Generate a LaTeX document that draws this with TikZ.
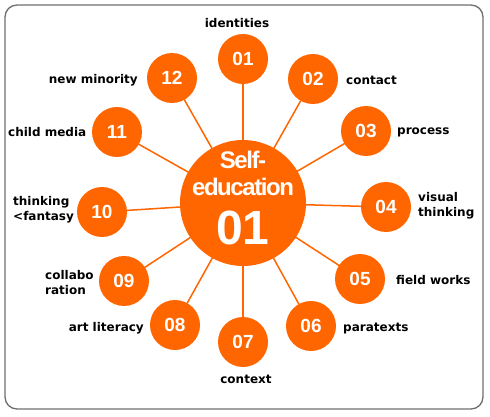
\documentclass[tikz,border=0pt]{standalone}
\usepackage{fontspec}
\usetikzlibrary{backgrounds}
\setmainfont{DejaVu Sans}
\newfontfamily\labfont{DejaVu Sans Bold}
\newfontfamily\numfont{Liberation Sans Bold}
\newfontfamily\ctrfont[LetterSpace=-6]{Liberation Sans Bold}
\definecolor{orng}{HTML}{FF6600}
\definecolor{frame}{HTML}{6E6E6E}
\tikzset{
  sat/.style={circle, fill=orng, minimum size=50pt, inner sep=0pt, text=white,
    font=\numfont\fontsize{19}{19}\selectfont},
  hub/.style={circle, fill=orng, minimum size=126pt, inner sep=0pt, text=white},
  spoke/.style={draw=orng, line width=1.5pt},
  lab/.style={inner sep=0pt, align=left, text=black,
    font=\labfont\fontsize{12}{15}\selectfont},
}
\begin{document}
\begin{tikzpicture}[x=1pt,y=-1pt]
\useasboundingbox (0,0) rectangle (490,417);
\draw[frame, line width=1.3pt, rounded corners=12pt] (5,5) rectangle (483,409);
\node[hub] (c) at (243,203) {};
\node[text=white, inner sep=0pt, font=\ctrfont\fontsize{24}{24}\selectfont] (t1) at (243,160) {Self-};
\node[text=white, inner sep=0pt, font=\ctrfont\fontsize{24}{24}\selectfont] (t2) at (243,187) {education};
\node[text=white, inner sep=0pt, font=\numfont\fontsize{48}{48}\selectfont] (t3) at (243,228) {01};
\node[sat] (s1) at (243,59) {01};
\node[sat] (s2) at (313,79) {02};
\node[sat] (s3) at (366,131) {03};
\node[sat] (s4) at (386,207) {04};
\node[sat] (s5) at (360,279) {05};
\node[sat] (s6) at (311,326) {06};
\node[sat] (s7) at (243,342) {07};
\node[sat] (s8) at (175,325) {08};
\node[sat] (s9) at (124,281) {09};
\node[sat] (s10) at (102,212) {10};
\node[sat] (s11) at (117,132) {11};
\node[sat] (s12) at (172,78) {12};
\begin{scope}[on background layer]
\foreach \i in {1,...,12} \draw[spoke] (c.center) -- (s\i.center);
\end{scope}
\node[lab] (l1) at (237,23) {identities};
\node[lab, anchor=west] (l2) at (346,80) {contact};
\node[lab, anchor=west] (l3) at (397,132) {process};
\node[lab, anchor=west] (l4) at (418,206) {visual\\thinking};
\node[lab, anchor=west] (l5) at (396,280) {field works};
\node[lab, anchor=west] (l6) at (343,329) {paratexts};
\node[lab] (l7) at (246,379) {context};
\node[lab, anchor=east] (l8) at (144,328) {art literacy};
\node[lab, anchor=west] (l9) at (45,283) {collabo\\ration};
\node[lab, anchor=west] (l10) at (13,210) {thinking\\<fantasy};
\node[lab, anchor=west] (l11) at (8,132) {child media};
\node[lab, anchor=east] (l12) at (138,80) {new minority};
\end{tikzpicture}
\end{document}
